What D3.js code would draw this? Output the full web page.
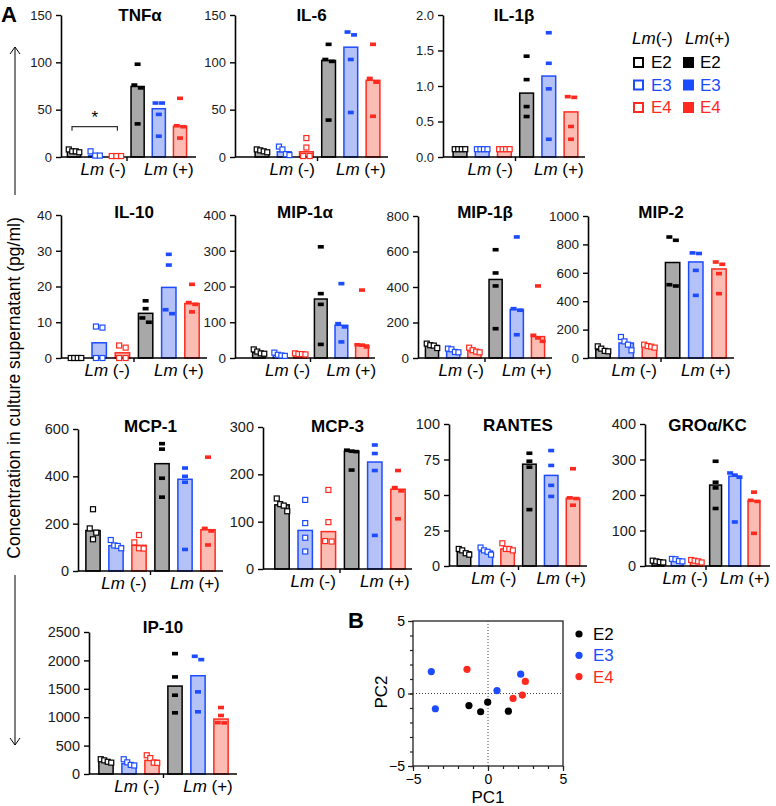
<!DOCTYPE html>
<html><head><meta charset="utf-8">
<script src="https://cdn.jsdelivr.net/npm/d3@7"></script>
<style>body{margin:0;background:#fff}svg{display:block;font-family:"Liberation Sans",Arial,Helvetica,sans-serif}</style>
</head><body><svg id="c" width="776" height="806"></svg>
<script>
// ---------- data ----------
const genotypes = ["E2", "E3", "E4"];
const conditions = ["Lm (-)", "Lm (+)"];
const cytokines = ["TNFα","IL-6","IL-1β","IL-10","MIP-1α","MIP-1β","MIP-2","MCP-1","MCP-3","RANTES","GROα/KC","IP-10"];
// order of each: E2-, E3-, E4-, E2+, E3+, E4+
const tnfa   = [[8,6,6,5],[6,1.5,1.5],[1,1,1],[98,76,73,35],[57,57,45,22],[62,33,32,20]];
const il6    = [[8,7,6,5],[11,8,3,2],[20,10,1,1],[119,103,101,39],[132,129,103,47],[119,83,79,43]];
const il1b   = [[0.11,0.11,0.11,0.11],[0.11,0.11,0.11,0.11],[0.11,0.11,0.11,0.11],[1.42,1.09,0.71,0.57],[1.75,1.32,0.96,0.25],[0.85,0.84,0.43,0.25]];
const il10   = [[0,0,0,0],[8.8,8.5,0,0],[3.5,2.9,0,0],[16,13.8,11.2,10],[29,26,13.5,12.4],[20.6,15.5,15,12.9]];
const mip1a  = [[24,18,13,12],[15,9,7,6],[13,11,11,10],[311,180,150,38],[208,96,87,45],[190,37,36,31]];
const mip1b  = [[81,72,70,56],[53,49,34,32],[58,44,36,32],[610,479,406,165],[682,278,269,131],[406,128,113,94]];
const mip2   = [[82,66,50,47],[148,117,94,54],[94,84,80,73],[852,829,516,507],[740,736,617,441],[676,660,594,453]];
const mcp1   = [[261,180,162,134],[131,108,106,96],[152,121,96,95],[538,515,392,312],[435,400,375,91],[481,180,169,110]];
const mcp3   = [[149,137,134,122],[146,97,66,37],[167,99,59,58],[251,249,248,209],[262,244,208,71],[208,172,165,106]];
const rantes = [[12,11,9,8],[13,11,10,8],[16,12,12,11],[79.4,73.8,69.6,39.7],[81.3,70.8,56.8,49],[68.5,48,47.5,42.8]];
const gro    = [[15,13,11,10],[20,19,14,13],[17,15,13,10],[295,236,220,162],[262,256,250,124],[208,185,182,92]];
const ip10   = [[260,240,215,200],[260,205,160,150],[330,280,200,195],[2119,1709,1387,1077],[2072,2014,1446,1095],[1170,1030,905,900]];
const panelData = [tnfa, il6, il1b, il10, mip1a, mip1b, mip2, mcp1, mcp3, rantes, gro, ip10];
const yMax     = [150,150,2,40,400,800,1000,600,300,100,400,2500];
const tickStep = [50,50,0.5,10,100,200,200,200,100,25,100,500];
// PCA scores [PC1, PC2]
const pcaE2 = [[-1.27,-0.83],[-0.49,-1.26],[-0.02,-0.6],[1.36,-1.22]];
const pcaE3 = [[-3.78,1.51],[-3.51,-1.05],[0.6,0.2],[2.18,1.33]];
const pcaE4 = [[-1.4,1.67],[1.67,-0.34],[2.29,-0.11],[2.49,0.83]];
const pcaTicks = [-5, 0, 5];

// ---------- layout ----------
const layout = [
  {ax:61,  c0:74,  c5:180, end:196, top:15,  zero:157, tx:140, ty:21,  fs:13},
  {ax:235, c0:262, c5:373, end:388, top:15,  zero:157, ty:21,  fs:13},
  {ax:443, c0:460, c5:571, end:585, top:15,  zero:157, ty:21,  fs:13},
  {ax:61,  c0:76,  c5:192, end:207, top:215, zero:358, ty:218, fs:13.5},
  {ax:235, c0:259, c5:362, end:375, top:215, zero:358, ty:218, fs:13.5},
  {ax:418, c0:432, c5:538, end:552, top:216, zero:358, ty:218, fs:13.5},
  {ax:588, c0:603, c5:719, end:734, top:216, zero:358, ty:218, fs:13.5},
  {ax:78,  c0:93,  c5:208, end:223, top:429, zero:571, ty:432, fs:14.5},
  {ax:263, c0:282, c5:398, end:412, top:427, zero:569, ty:432, fs:14.5},
  {ax:449, c0:464, c5:573, end:587, top:424, zero:566, ty:431, fs:14.5},
  {ax:645, c0:658, c5:754, end:770, top:424, zero:566, ty:431, fs:14.5},
  {ax:89,  c0:106, c5:221, end:237, top:632, zero:774, ty:633, fs:14.5}
];
const strokeC = ["#000000", "#1d4cff", "#ff2a1f"];
const fillC   = ["#a8a8a8", "#b4c2f7", "#fbbdb3"];
const FONT_LM = 17, FONT_TITLE = 17;

const svg = d3.select("#c");

function lmLabel(sel, x, y, sign, size) {
  const t = sel.append("text").attr("x", x).attr("y", y).attr("text-anchor", "middle")
    .attr("font-size", size).attr("fill", "#000");
  t.append("tspan").attr("font-style", "italic").text("Lm");
  t.append("tspan").text(sign);
}

function drawPanel(i) {
  const L = layout[i], data = panelData[i];
  const g = svg.append("g");
  const y = d3.scaleLinear().domain([0, yMax[i]]).range([L.zero, L.top]);
  const x = d3.scalePoint().domain(d3.range(6)).range([L.c0, L.c5]);
  const bw = x.step() * 0.62;

  // bars (median)
  data.forEach((vals, k) => {
    const m = d3.median(vals), grp = k % 3;
    g.append("rect").attr("x", x(k) - bw / 2).attr("y", y(m))
      .attr("width", bw).attr("height", Math.max(0, L.zero - y(m)))
      .attr("fill", fillC[grp]).attr("stroke", strokeC[grp]).attr("stroke-width", 1.5);
  });

  // axes
  const ticks = d3.range(0, yMax[i] + tickStep[i] / 2, tickStep[i]);
  const fmt = yMax[i] < 5 ? d3.format(".1f") : d3.format("d");
  const ya = g.append("g").attr("transform", `translate(${L.ax},0)`)
    .call(d3.axisLeft(y).tickValues(ticks).tickSize(5).tickSizeOuter(0).tickFormat(fmt).tickPadding(4));
  ya.select(".domain").attr("stroke", "#000").attr("stroke-width", 1.6);
  ya.selectAll(".tick line").attr("stroke", "#000").attr("stroke-width", 1.4);
  ya.selectAll(".tick text").attr("font-size", L.fs).attr("fill", "#1a1a1a")
    .attr("font-family", '"Liberation Sans",Arial,sans-serif');
  g.append("line").attr("x1", L.ax).attr("x2", L.end).attr("y1", L.zero).attr("y2", L.zero)
    .attr("stroke", "#000").attr("stroke-width", 1.6);
  const mid = (x(2) + x(3)) / 2;
  g.append("line").attr("x1", mid).attr("x2", mid).attr("y1", L.zero).attr("y2", L.zero + 4)
    .attr("stroke", "#000").attr("stroke-width", 1.4);

  // points with simple horizontal spreading of overlapping markers
  data.forEach((vals, k) => {
    const grp = k % 3, open = k < 3;
    const mh = open ? 5 : 3.6, mw = open ? 5 : 6;
    const pts = vals.map(v => ({v, py: y(v)})).sort((a, b) => a.py - b.py);
    const clusters = [];
    pts.forEach(p => {
      const last = clusters[clusters.length - 1];
      if (last && p.py - last[last.length - 1].py < mh + 1) last.push(p); else clusters.push([p]);
    });
    clusters.forEach(c => {
      const n = c.length, sp = Math.min(6.5, 14 / n);
      c.forEach((p, j) => {
        const px = x(k) + (j - (n - 1) / 2) * sp;
        const r = g.append("rect").attr("x", px - mw / 2).attr("y", p.py - mh / 2)
          .attr("width", mw).attr("height", mh);
        if (open) r.attr("fill", "#fff").attr("stroke", strokeC[grp]).attr("stroke-width", 1.2);
        else r.attr("fill", strokeC[grp]);
      });
    });
  });

  // title
  g.append("text").attr("x", L.tx != null ? L.tx : (L.ax + L.end) / 2).attr("y", L.ty)
    .attr("text-anchor", "middle").attr("font-size", FONT_TITLE).attr("font-weight", "bold")
    .attr("fill", "#000").text(cytokines[i]);
  // group labels
  lmLabel(g, x(1) + 8, L.zero + 18, " (-)", FONT_LM);
  lmLabel(g, x(4) + 10, L.zero + 18, " (+)", FONT_LM);
  return {x, y};
}

layout.forEach((_, i) => drawPanel(i));

// significance bracket on TNFα
{
  const L = layout[0];
  const x = d3.scalePoint().domain(d3.range(6)).range([L.c0, L.c5]);
  const yb = d3.scaleLinear().domain([0, yMax[0]]).range([L.zero, L.top]);
  const x1 = x(0) - 2, x2 = x(2) + 1, yy = yb(32);
  svg.append("path").attr("d", `M${x1},${yy + 4}V${yy}H${x2}V${yy + 4}`)
    .attr("fill", "none").attr("stroke", "#333").attr("stroke-width", 1.2);
  svg.append("text").attr("x", (x1 + x2) / 2).attr("y", yy - 4).attr("text-anchor", "middle")
    .attr("font-size", 17).attr("fill", "#000").text("*");
}

// legend (top right)
{
  const lg = svg.append("g");
  const lt = (x, sign) => {
    const t = lg.append("text").attr("x", x).attr("y", 44).attr("font-size", 17).attr("fill", "#000");
    t.append("tspan").attr("font-style", "italic").text("Lm");
    t.append("tspan").text(sign);
  };
  lt(632, "(-)"); lt(685, "(+)");
  genotypes.forEach((gname, j) => {
    const by = 68 + j * 22.5;
    lg.append("rect").attr("x", 634).attr("y", by - 10).attr("width", 9).attr("height", 9)
      .attr("fill", "#fff").attr("stroke", strokeC[j]).attr("stroke-width", 2);
    lg.append("text").attr("x", 651).attr("y", by).attr("font-size", 17).attr("fill", strokeC[j]).text(gname);
    lg.append("rect").attr("x", 683).attr("y", by - 11).attr("width", 11).attr("height", 11)
      .attr("fill", strokeC[j]);
    lg.append("text").attr("x", 700).attr("y", by).attr("font-size", 17).attr("fill", strokeC[j]).text(gname);
  });
}

// global y label and arrows
{
  svg.append("text").attr("transform", "translate(20,388) rotate(-90)").attr("text-anchor", "middle")
    .attr("font-size", 17.5).attr("fill", "#000").text("Concentration in culture supernatant (pg/ml)");
  const ax = 15;
  svg.append("line").attr("x1", ax).attr("x2", ax).attr("y1", 47).attr("y2", 195).attr("stroke", "#000").attr("stroke-width", 1);
  svg.append("path").attr("d", `M${ax - 5},${54}L${ax},${47}L${ax + 5},${54}`).attr("fill", "none").attr("stroke", "#000").attr("stroke-width", 1);
  svg.append("line").attr("x1", ax).attr("x2", ax).attr("y1", 575).attr("y2", 745).attr("stroke", "#000").attr("stroke-width", 1);
  svg.append("path").attr("d", `M${ax - 5},${738}L${ax},${745}L${ax + 5},${738}`).attr("fill", "none").attr("stroke", "#000").attr("stroke-width", 1);
  svg.append("text").attr("x", 1).attr("y", 22).attr("font-size", 22).attr("font-weight", "bold").text("A");
  svg.append("text").attr("x", 348).attr("y", 628).attr("font-size", 22).attr("font-weight", "bold").text("B");
}

// PCA panel
{
  const px = d3.scaleLinear().domain([-5, 5]).range([413, 563]);
  const py = d3.scaleLinear().domain([-5, 5]).range([766, 621]);
  const g = svg.append("g");
  const minor = d3.range(-5, 6);
  const xa = g.append("g").attr("transform", "translate(0,766)")
    .call(d3.axisBottom(px).tickValues(minor).tickSize(3).tickSizeOuter(0).tickFormat(""));
  const ya = g.append("g").attr("transform", "translate(413,0)")
    .call(d3.axisLeft(py).tickValues(minor).tickSize(3).tickSizeOuter(0).tickFormat(""));
  const xM = g.append("g").attr("transform", "translate(0,766)")
    .call(d3.axisBottom(px).tickValues(pcaTicks).tickSize(5).tickSizeOuter(0).tickPadding(3));
  const yM = g.append("g").attr("transform", "translate(413,0)")
    .call(d3.axisLeft(py).tickValues(pcaTicks).tickSize(5).tickSizeOuter(0).tickPadding(3));
  [xa, ya, xM, yM].forEach(a => {
    a.select(".domain").remove();
    a.selectAll(".tick line").attr("stroke", "#222").attr("stroke-width", 1.2);
    a.selectAll(".tick text").attr("font-size", 14).attr("fill", "#000")
      .attr("font-family", '"Liberation Sans",Arial,sans-serif');
  });
  g.append("rect").attr("x", 413).attr("y", 621).attr("width", 150).attr("height", 145)
    .attr("fill", "none").attr("stroke", "#222").attr("stroke-width", 1.3);
  g.append("line").attr("x1", px(0)).attr("x2", px(0)).attr("y1", 621).attr("y2", 766)
    .attr("stroke", "#444").attr("stroke-width", 1).attr("stroke-dasharray", "1,2");
  g.append("line").attr("x1", 413).attr("x2", 563).attr("y1", py(0)).attr("y2", py(0))
    .attr("stroke", "#444").attr("stroke-width", 1).attr("stroke-dasharray", "1,2");
  [pcaE2, pcaE3, pcaE4].forEach((arr, j) => {
    g.selectAll(null).data(arr).enter().append("circle")
      .attr("cx", d => px(d[0])).attr("cy", d => py(d[1])).attr("r", 3.6).attr("fill", strokeC[j]);
  });
  g.append("text").attr("x", 488).attr("y", 803).attr("text-anchor", "middle").attr("font-size", 17).text("PC1");
  g.append("text").attr("transform", "translate(387,692) rotate(-90)").attr("text-anchor", "middle").attr("font-size", 17).text("PC2");
  genotypes.forEach((gname, j) => {
    g.append("circle").attr("cx", 579).attr("cy", 634 + j * 21.3).attr("r", 3.6).attr("fill", strokeC[j]);
    g.append("text").attr("x", 593).attr("y", 640 + j * 21.3).attr("font-size", 17).attr("fill", strokeC[j]).text(gname);
  });
}
</script></body></html>
